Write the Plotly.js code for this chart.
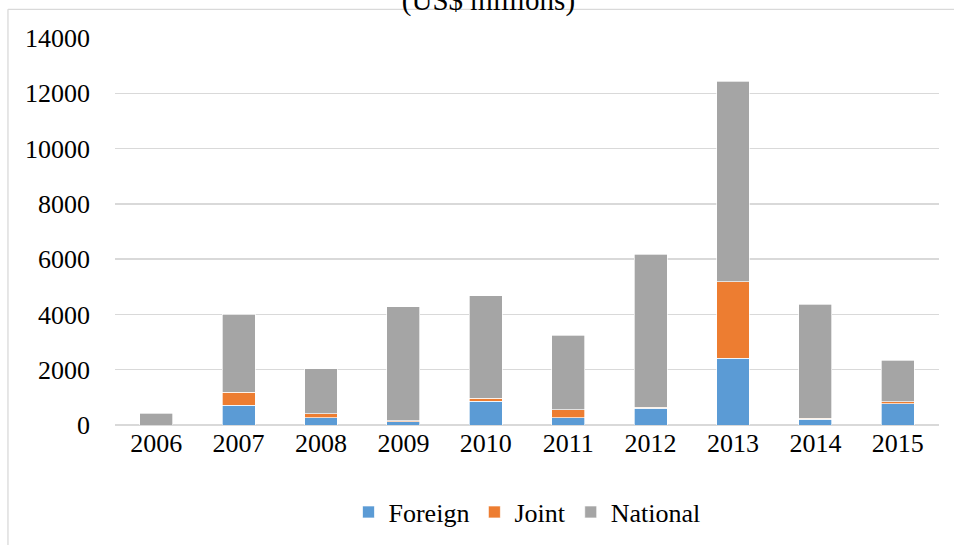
<!DOCTYPE html>
<html>
<head>
<meta charset="utf-8">
<script src="https://cdn.plot.ly/plotly-3.0.1.min.js"></script>
<style>
  html, body { margin: 0; padding: 0; background: #ffffff; }
  #chart { width: 954px; height: 548px; }
</style>
</head>
<body>
<div id="chart"></div>
<script>
// Data (US$ millions)
var years = ['2006', '2007', '2008', '2009', '2010', '2011', '2012', '2013', '2014', '2015'];
var foreign = [0, 710, 260, 120, 860, 260, 600, 2420, 200, 775];
var joint = [0, 480, 145, 25, 115, 285, 45, 2755, 40, 60];
var national = [420, 2820, 1625, 4140, 3705, 2700, 5525, 7255, 4120, 1515];
var yTicks = [0, 2000, 4000, 6000, 8000, 10000, 12000, 14000];

var FONT = '"Liberation Serif", "Times New Roman", serif';
var edge = { color: 'rgba(255,255,255,0.85)', width: 0.8 };

var traces = [
  { type: 'bar', name: 'Foreign', x: years, y: foreign, marker: { color: '#5B9BD5', line: edge } },
  { type: 'bar', name: 'Joint', x: years, y: joint, marker: { color: '#ED7D31', line: edge } },
  { type: 'bar', name: 'National', x: years, y: national, marker: { color: '#A5A5A5', line: edge } }
];

var layout = {
  width: 954,
  height: 548,
  barmode: 'stack',
  bargap: 0.6,
  paper_bgcolor: '#ffffff',
  plot_bgcolor: '#ffffff',
  margin: { l: 115, r: 15, t: 38, b: 119 },
  font: { family: FONT, size: 26, color: '#000000' },
  title: {
    text: '(US$ millions)',
    font: { family: FONT, size: 29, color: '#000000' },
    xref: 'container', yref: 'container',
    x: 0.512, xanchor: 'center',
    y: 1.0, yanchor: 'middle'
  },
  xaxis: {
    type: 'category',
    showgrid: false,
    showline: false,
    ticks: '',
    tickfont: { family: FONT, size: 26, color: '#000000' }
  },
  yaxis: {
    range: [0, 14000],
    tickvals: yTicks,
    ticktext: yTicks.map(String),
    showgrid: true,
    gridcolor: '#D9D9D9',
    gridwidth: 1.3,
    zeroline: true,
    zerolinecolor: '#D9D9D9',
    zerolinewidth: 1.3,
    showline: false,
    ticks: '',
    ticklabelstandoff: 24,
    tickfont: { family: FONT, size: 26, color: '#000000' }
  },
  legend: {
    orientation: 'h',
    x: 0.5, xanchor: 'center',
    y: -0.225, yanchor: 'middle',
    font: { family: FONT, size: 26, color: '#000000' },
    itemwidth: 30,
    traceorder: 'normal'
  },
  shapes: [
    { type: 'line', xref: 'paper', yref: 'paper', x0: -0.1299, x1: -0.1299, y0: 1.0742, y1: -0.31,
      line: { color: '#D9D9D9', width: 1.3 } },
    { type: 'line', xref: 'paper', yref: 'paper', x0: -0.1299, x1: 1.02, y0: 1.0742, y1: 1.0742,
      line: { color: '#D9D9D9', width: 1.3 } }
  ],
  showlegend: true
};

Plotly.newPlot('chart', traces, layout, { displayModeBar: false, staticPlot: true });
</script>
</body>
</html>
